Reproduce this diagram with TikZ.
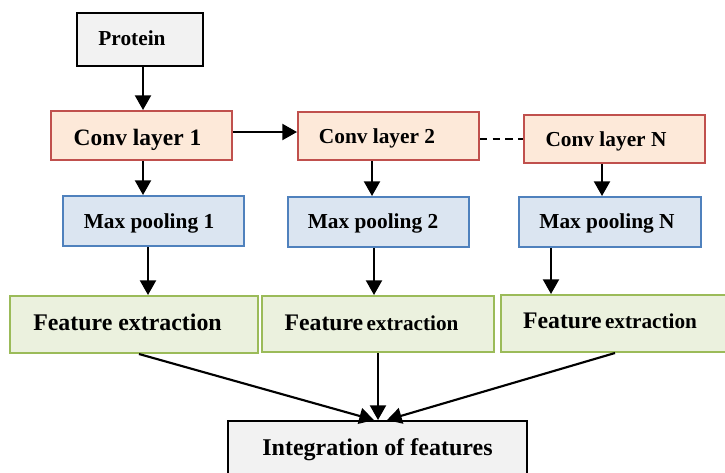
\documentclass[tikz,border=0pt]{standalone}
\usepackage{fontspec}
\setmainfont{Liberation Serif}
\usetikzlibrary{arrows.meta}
\definecolor{grayfill}{HTML}{F2F2F2}
\definecolor{convfill}{HTML}{FDE9D9}
\definecolor{convdraw}{HTML}{C0504D}
\definecolor{poolfill}{HTML}{DBE5F1}
\definecolor{pooldraw}{HTML}{4F81BD}
\definecolor{featfill}{HTML}{EBF1DE}
\definecolor{featdraw}{HTML}{9BBB59}
\newcommand{\fs}[1]{\fontsize{#1}{#1}\selectfont}
\begin{document}
\begin{tikzpicture}[x=0.75pt,y=-0.75pt,
  box/.style={draw, line width=1.5pt, inner sep=0pt, rectangle},
  graybox/.style={box, fill=grayfill, draw=black},
  convbox/.style={box, fill=convfill, draw=convdraw, minimum width=181*0.75pt, minimum height=48*0.75pt},
  poolbox/.style={box, fill=poolfill, draw=pooldraw, minimum width=181*0.75pt, minimum height=50*0.75pt},
  featbox/.style={box, fill=featfill, draw=featdraw, minimum height=57*0.75pt},
  txt/.style={inner sep=0pt, anchor=base, font=\bfseries},
  arr/.style={line width=1.6pt, -{Triangle[width=12pt,length=11pt]}},
  dashline/.style={line width=1.6pt, dash pattern=on 5.5pt off 4pt}]
\useasboundingbox (0,0) rectangle (725,472);

% boxes
\node[graybox, minimum width=126*0.75pt, minimum height=53*0.75pt] (protein) at (140,39.5) {};
\node[convbox, minimum height=49*0.75pt] (conv1) at (141.5,135.5) {};
\node[convbox] (conv2) at (388.5,136) {};
\node[convbox] (convN) at (614.5,139) {};
\node[poolbox] (pool1) at (153.5,221) {};
\node[poolbox] (pool2) at (378.5,222) {};
\node[poolbox, minimum width=182*0.75pt] (poolN) at (610,222) {};
\node[featbox, minimum width=248*0.75pt] (feat1) at (134,324.5) {};
\node[featbox, minimum width=232*0.75pt, minimum height=56*0.75pt] (feat2) at (378,324) {};
\node[featbox, minimum width=227*0.75pt] (featN) at (614.5,323.5) {};
\node[graybox, minimum width=299*0.75pt, minimum height=53*0.75pt] (integ) at (377.5,447.5) {};

% texts
\node[txt, font=\bfseries\fs{16}] (tprotein) at (132,45) {Protein};
\node[txt, font=\bfseries\fs{17.6}] (tconv1) at (137.5,145.7) {Conv layer 1};
\node[txt, font=\bfseries\fs{16}] (tconv2) at (377,143.3) {Conv layer 2};
\node[txt, font=\bfseries\fs{16}] (tconvN) at (606,146.7) {Conv layer N};
\node[txt, font=\bfseries\fs{16}] (tpool1) at (149,228) {Max pooling 1};
\node[txt, font=\bfseries\fs{16}] (tpool2) at (373,228.3) {Max pooling 2};
\node[txt, font=\bfseries\fs{16}] (tpoolN) at (607,228.3) {Max pooling N};
\node[txt, font=\bfseries\fs{17.9}] (tfeat1) at (127.5,330.7) {Feature extraction};
\node[txt] (tfeat2) at (371.5,330) {{\fs{17.8}Feature} {\fs{15.9}extraction}};
\node[txt] (tfeatN) at (610,328.3) {{\fs{17.8}Feature} {\fs{15.9}extraction}};
\node[txt, font=\bfseries\fs{18}] (tinteg) at (377.5,455) {Integration of features};

% helper coordinates for connector positions
\coordinate (x143) at (143,0);
\coordinate (x372) at (372,0);
\coordinate (x602) at (602,0);
\coordinate (x148) at (148,0);
\coordinate (x374) at (374,0);
\coordinate (x551) at (551,0);
\coordinate (x139) at (139,0);
\coordinate (x378) at (378,0);
\coordinate (x615) at (615,0);
\coordinate (x387) at (387,0);
\coordinate (y132) at (0,132);
\coordinate (y139) at (0,139);

% connectors
\draw[arr] (protein.south -| x143) -- (conv1.north -| x143);
\draw[arr] (conv1.east |- y132) -- (conv2.west |- y132);
\draw[dashline] (conv2.east |- y139) -- (convN.west |- y139);
\draw[arr] (conv1.south -| x143) -- (pool1.north -| x143);
\draw[arr] (conv2.south -| x372) -- (pool2.north -| x372);
\draw[arr] (convN.south -| x602) -- (poolN.north -| x602);
\draw[arr] (pool1.south -| x148) -- (feat1.north -| x148);
\draw[arr] (pool2.south -| x374) -- (feat2.north -| x374);
\draw[arr] (poolN.south -| x551) -- (featN.north -| x551);
\draw[arr] (feat1.south -| x139) -- (integ.north -| x374);
\draw[arr] (feat2.south -| x378) -- (integ.north -| x378);
\draw[arr] (featN.south -| x615) -- (integ.north -| x387);
\end{tikzpicture}
\end{document}
